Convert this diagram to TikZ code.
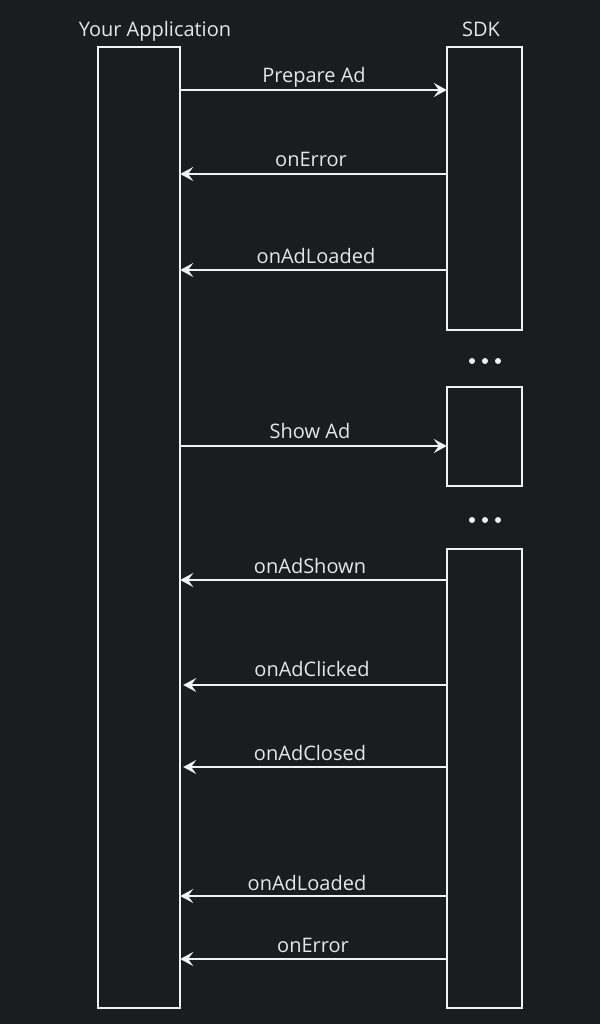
\documentclass[tikz,border=0pt]{standalone}
\usepackage{fontspec}
\setmainfont{Open Sans}
\usetikzlibrary{arrows.meta}
\definecolor{bg}{HTML}{1B1C1E}
\definecolor{fg}{HTML}{F2F2F2}
\definecolor{tx}{HTML}{E6E6E6}
\begin{document}
\begin{tikzpicture}[x=1pt,y=-1pt,
  lifebox/.style={draw=fg,line width=2pt,fill=bg},
  msg/.style={draw=fg,line width=1.8pt,-{Stealth[length=13pt,width=14pt,inset=5pt]}},
  lbl/.style={text=tx,font=\fontsize{20}{24}\selectfont,inner sep=0pt,anchor=base},
  title/.style={text=tx,font=\fontsize{20}{24}\selectfont,inner sep=0pt,anchor=base},
  dot/.style={fill=fg,draw=none,circle,minimum size=6pt,inner sep=0pt}]
\fill[bg] (0,0) rectangle (600,1024);
\useasboundingbox (0,0) rectangle (600,1024);
% boxes
\draw[lifebox] (98,47) rectangle (180,1008);
\node[inner sep=0pt,minimum width=82pt,minimum height=961pt] (app) at (139,527.5) {};
\draw[lifebox] (447,47) rectangle (522,330);
\node[inner sep=0pt,minimum width=75pt,minimum height=283pt] (sdkA) at (484.5,188.5) {};
\draw[lifebox] (447,387) rectangle (522,486);
\node[inner sep=0pt,minimum width=75pt,minimum height=99pt] (sdkB) at (484.5,436.5) {};
\draw[lifebox] (447,549) rectangle (522,1008);
\node[inner sep=0pt,minimum width=75pt,minimum height=459pt] (sdkC) at (484.5,778.5) {};
% titles
\node[title] (t1) at (155,37) {Your Application};
\node[title] (t2) at (481,37) {SDK};
% dots
\node[dot] (d1) at (472,361) {};
\node[dot] (d2) at (485,361) {};
\node[dot] (d3) at (498,361) {};
\node[dot] (d4) at (472,520) {};
\node[dot] (d5) at (485,520) {};
\node[dot] (d6) at (498,520) {};
% messages
\draw[msg] (app.east |- 0,90) -- (sdkA.west |- 0,90);
\node[lbl] (l1) at (314,83) {Prepare Ad};
\draw[msg] (sdkA.west |- 0,174) -- (app.east |- 0,174);
\node[lbl] (l2) at (311,167) {onError};
\draw[msg] (sdkA.west |- 0,270) -- (app.east |- 0,270);
\node[lbl] (l3) at (316,263) {onAdLoaded};
\draw[msg] (app.east |- 0,446) -- (sdkB.west |- 0,446);
\node[lbl] (l4) at (310,438) {Show Ad};
\draw[msg] (sdkC.west |- 0,580) -- (app.east |- 0,580);
\node[lbl] (l5) at (310,573) {onAdShown};
\draw[msg] (sdkC.west |- 0,685) -- ([xshift=3pt]app.east |- 0,685);
\node[lbl] (l6) at (312,676) {onAdClicked};
\draw[msg] (sdkC.west |- 0,767) -- ([xshift=3pt]app.east |- 0,767);
\node[lbl] (l7) at (310,760) {onAdClosed};
\draw[msg] (sdkC.west |- 0,896) -- (app.east |- 0,896);
\node[lbl] (l8) at (307,890) {onAdLoaded};
\draw[msg] (sdkC.west |- 0,959) -- (app.east |- 0,959);
\node[lbl] (l9) at (313,952) {onError};
\end{tikzpicture}
\end{document}
